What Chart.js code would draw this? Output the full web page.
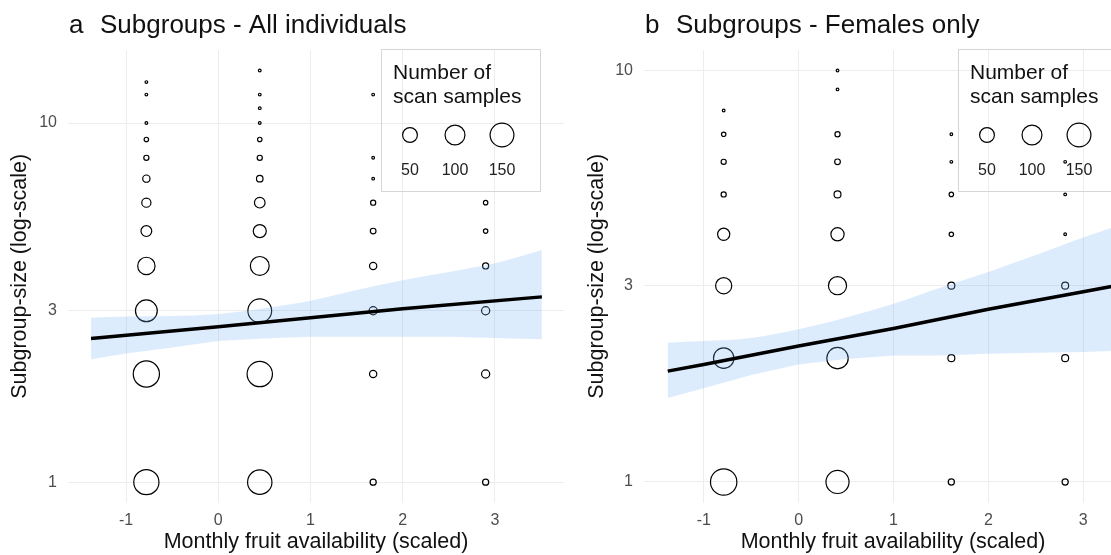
<!DOCTYPE html>
<html>
<head>
<meta charset="utf-8">
<script src="https://cdn.jsdelivr.net/npm/chart.js@4/dist/chart.umd.min.js"></script>
<style>
  html, body { margin: 0; padding: 0; background: #fff; overflow: hidden; }
  #wrap { position: relative; width: 1111px; height: 555px; overflow: hidden; }
  .panel { position: absolute; top: 0; }
  #panelA { left: 0; }
  #panelB { left: 577px; }
</style>
</head>
<body>
<div id="wrap">
  <div class="panel" id="panelA"><canvas id="chartA" width="569" height="555"></canvas></div>
  <div class="panel" id="panelB"><canvas id="chartB" width="570" height="555"></canvas></div>
</div>
<script>
// a - all individuals: one column of circles per month value
const colXA = [-0.78, 0.45, 1.68, 2.90];
const sizesA = [
    [1, 2, 3, 4, 5, 6, 7, 8, 9, 10, 12, 13],
    [1, 2, 3, 4, 5, 6, 7, 8, 9, 10, 11, 12, 14],
    [1, 2, 3, 4, 5, 6, 7, 8, 12],
    [1, 2, 3, 4, 5, 6],
];
const scansA = [
    [170, 186, 123, 73, 23, 15, 8, 3, 2, 1, 1, 1],
    [158, 173, 150, 88, 37, 22, 6, 3, 2, 1, 1, 1, 1],
    [5, 8, 11, 8, 4, 3, 1, 1, 1],
    [5, 11, 11, 5, 2, 2],
];
const bandXA = [-1.38, -1, -0.5, 0, 0.5, 1, 1.5, 2, 2.5, 3, 3.51];
const upperA = [2.87, 2.89, 2.90, 2.94, 3.05, 3.20, 3.43, 3.65, 3.85, 4.07, 4.43];
const lowerA = [2.20, 2.28, 2.37, 2.47, 2.51, 2.54, 2.54, 2.54, 2.54, 2.52, 2.50];
const lineXA = [-1.38, 0, 2, 3.51];
const lineA = [2.51, 2.71, 3.04, 3.28];

// b - females only
const colXB = [-0.79, 0.41, 1.61, 2.81];
const sizesB = [
    [1, 2, 3, 4, 5, 6, 7, 8],
    [1, 2, 3, 4, 5, 6, 7, 9, 10],
    [1, 2, 3, 4, 5, 6, 7],
    [1, 2, 3, 4, 5, 6],
];
const scansB = [
    [189, 106, 62, 31, 3, 3, 2, 1],
    [140, 118, 81, 38, 7, 4, 3, 1, 1],
    [5, 7, 7, 2, 2, 1, 1],
    [5, 7, 7, 1, 1, 1],
];
const bandXB = [-1.38, -1, -0.5, 0, 0.5, 1, 1.5, 2, 2.5, 3, 3.51];
const upperB = [2.18, 2.20, 2.24, 2.35, 2.51, 2.71, 2.97, 3.24, 3.56, 3.93, 4.30];
const lowerB = [1.60, 1.69, 1.82, 1.93, 1.99, 2.03, 2.03, 2.05, 2.06, 2.07, 2.09];
const lineXB = [-1.38, -1, 0, 1, 2, 3, 3.51];
const lineB = [1.86, 1.93, 2.14, 2.36, 2.63, 2.90, 3.05];

const xTicks = [-1, 0, 1, 2, 3];
const yTicks = [1, 3, 10];
const legendScans = [50, 100, 150];

const FONT = '"Liberation Sans", Arial, Helvetica, sans-serif';
Chart.defaults.font.family = FONT;

// circle radius grows with sqrt of the number of scans (like scale_size)
function radius(n) {
    return 1.35 + 0.864 * Math.sqrt(Math.max(n, 1) - 1);
}

function pointRows(colX, sizes, scans) {
    const rows = [];
    colX.forEach((x, i) => {
        sizes[i].forEach((s, j) => rows.push({ x: x, y: s, n: scans[i][j] }));
    });
    return rows;
}

function xy(xs, ys) {
    return xs.map((x, i) => ({ x: x, y: ys[i] }));
}

function decor(letter, title) {
    return {
        id: 'decor',
        afterDraw(chart) {
            const ctx = chart.ctx;
            const left = chart.chartArea.left;
            ctx.save();
            ctx.fillStyle = '#111';
            ctx.textAlign = 'left';
            ctx.textBaseline = 'alphabetic';
            ctx.font = '26px ' + FONT;
            ctx.fillText(letter, left + 1, 33);
            ctx.fillText(title, left + 32, 33);

            // size legend
            const bx = 381, by = 49, bw = 159, bh = 142;
            ctx.strokeStyle = '#d6d6d6';
            ctx.lineWidth = 1;
            ctx.strokeRect(bx + 0.5, by + 0.5, bw, bh);
            ctx.font = '21px ' + FONT;
            ctx.fillText('Number of', bx + 12, 79);
            ctx.fillText('scan samples', bx + 12, 103);
            const offs = [29, 74, 121];
            ctx.font = '16px ' + FONT;
            ctx.textAlign = 'center';
            ctx.textBaseline = 'middle';
            ctx.fillStyle = '#222';
            ctx.strokeStyle = '#000';
            ctx.lineWidth = 1.2;
            legendScans.forEach((n, i) => {
                ctx.beginPath();
                ctx.arc(bx + offs[i], 135, radius(n), 0, Math.PI * 2);
                ctx.stroke();
                ctx.fillText(String(n), bx + offs[i], 171);
            });
            ctx.restore();
        }
    };
}

function makePanel(canvas, cfg) {
    return new Chart(canvas, {
        type: 'line',
        data: {
            datasets: [
                {
                    label: 'subgroups',
                    data: pointRows(cfg.colX, cfg.sizes, cfg.scans),
                    showLine: false,
                    pointRadius: (c) => radius(c.raw ? c.raw.n : 1),
                    pointHoverRadius: (c) => radius(c.raw ? c.raw.n : 1),
                    pointBorderColor: '#000',
                    pointBackgroundColor: 'rgba(0,0,0,0)',
                    pointBorderWidth: 1.2,
                    order: 3,
                },
                {
                    label: 'lower',
                    data: xy(cfg.bandX, cfg.lower),
                    borderColor: 'rgba(0,0,0,0)',
                    borderWidth: 0,
                    pointRadius: 0,
                    fill: false,
                    order: 2,
                },
                {
                    label: 'upper',
                    data: xy(cfg.bandX, cfg.upper),
                    borderColor: 'rgba(0,0,0,0)',
                    borderWidth: 0,
                    pointRadius: 0,
                    cubicInterpolationMode: 'monotone',
                    backgroundColor: 'rgba(120, 180, 245, 0.25)',
                    fill: '-1',
                    order: 2,
                },
                {
                    label: 'fit',
                    data: xy(cfg.lineX, cfg.line),
                    borderColor: '#000',
                    borderWidth: 3.5,
                    pointRadius: 0,
                    fill: false,
                    order: 0,
                },
            ]
        },
        options: {
            responsive: false,
            animation: false,
            events: [],
            layout: { autoPadding: false, padding: { top: 50, right: 5, bottom: 0, left: 0 } },
            plugins: {
                legend: { display: false },
                tooltip: { enabled: false },
            },
            scales: {
                x: {
                    type: 'linear',
                    min: -1.63,
                    max: cfg.xMax,
                    bounds: 'data',
                    afterFit: (s) => { s.height = 52.4; },
                    afterBuildTicks: (s) => { s.ticks = xTicks.map(v => ({ value: v })); },
                    grid: { color: '#ededed', lineWidth: 1, drawTicks: false },
                    border: { display: false },
                    ticks: {
                        autoSkip: false,
                        maxRotation: 0,
                        padding: 8,
                        color: '#4d4d4d',
                        font: { size: 16 },
                        callback: (v) => String(v),
                    },
                    title: {
                        display: true,
                        text: 'Monthly fruit availability (scaled)',
                        color: '#111',
                        font: { size: 21.5 },
                        padding: { top: 0, bottom: 0 },
                    },
                },
                y: {
                    type: 'logarithmic',
                    min: cfg.yMin,
                    max: cfg.yMax,
                    bounds: 'data',
                    afterFit: (s) => { s.width = cfg.yWidth; },
                    afterBuildTicks: (s) => { s.ticks = yTicks.map(v => ({ value: v })); },
                    grid: { color: '#ededed', lineWidth: 1, drawTicks: false },
                    border: { display: false },
                    ticks: {
                        autoSkip: false,
                        padding: 11,
                        color: '#4d4d4d',
                        font: { size: 16 },
                        callback: (v) => String(v),
                    },
                    title: {
                        display: true,
                        text: 'Subgroup-size (log-scale)',
                        color: '#111',
                        font: { size: 21.5 },
                        padding: { top: 7, bottom: 0 },
                    },
                },
            },
        },
        plugins: [decor(cfg.letter, cfg.title)],
    });
}

makePanel(document.getElementById('chartA'), {
    letter: 'a', title: 'Subgroups - All individuals',
    colX: colXA, sizes: sizesA, scans: scansA,
    bandX: bandXA, upper: upperA, lower: lowerA,
    lineX: lineXA, line: lineA,
    xMax: 3.75, yMin: 0.877, yMax: 15.97, yWidth: 68,
});
makePanel(document.getElementById('chartB'), {
    letter: 'b', title: 'Subgroups - Females only',
    colX: colXB, sizes: sizesB, scans: scansB,
    bandX: bandXB, upper: upperB, lower: lowerB,
    lineX: lineXB, line: lineB,
    xMax: 3.62, yMin: 0.891, yMax: 11.22, yWidth: 67,
});
</script>
</body>
</html>
